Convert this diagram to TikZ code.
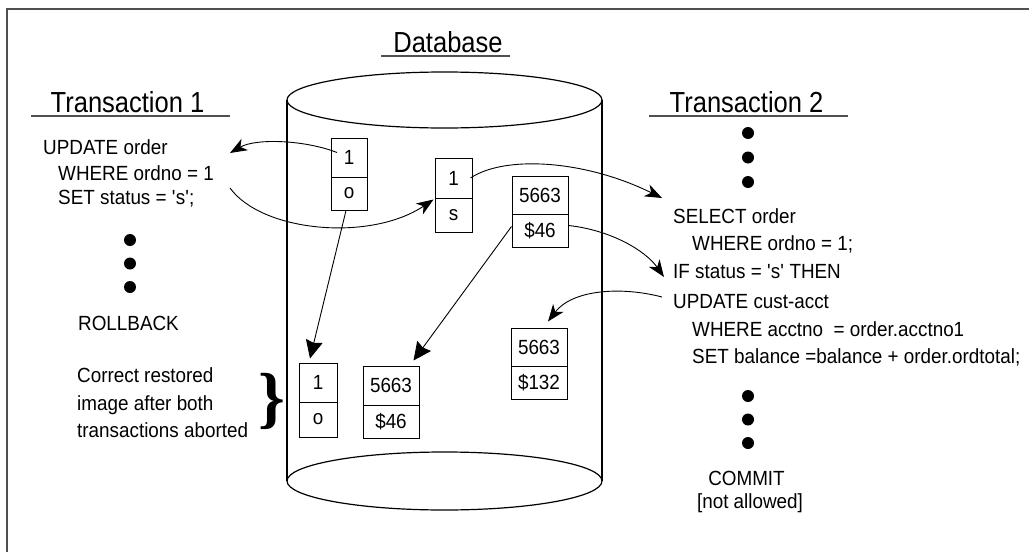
\documentclass[tikz,border=0pt]{standalone}
\usepackage{fontspec}
\setmainfont[FakeStretch=0.88]{Liberation Sans}
\newfontfamily\bodyfont[FakeStretch=0.92]{Liberation Sans}
\newfontfamily\braceserif{Liberation Serif}
\usetikzlibrary{arrows.meta,calc}
\definecolor{framegray}{RGB}{80,80,80}
\begin{document}
\begin{tikzpicture}[x=1pt,y=-1pt,
  body/.style={inner sep=0pt, font=\bodyfont\fontsize{20.5}{24}\selectfont, anchor=base west},
  ttl/.style={inner sep=0pt, font=\fontsize{29}{34}\selectfont, anchor=base},
  ctr/.style={inner sep=0pt, font=\bodyfont\fontsize{20.5}{24}\selectfont, anchor=base},
  cellbox/.style={draw, line width=1pt, inner sep=0pt, font=\bodyfont\fontsize{20.5}{24}\selectfont},
  dotm/.style={circle, fill, inner sep=0pt, minimum size=12pt},
  uline/.style={draw=framegray, line width=2pt},
  cyl/.style={draw, line width=1.2pt},
  carrow/.style={-{Stealth[length=17pt,width=13pt,inset=5pt]}, line width=0.9pt},
  sarrow/.style={-{Stealth[length=18pt,width=17pt,inset=2pt]}, line width=0.9pt}]
\useasboundingbox (0,0) rectangle (1029,552);
% frame (only top and left visible)
\draw[framegray, line width=2.3pt] (7,560) -- (7,9) -- (1040,9);

% titles
\node[ttl] (t1title) at (127.5,112) {Transaction 1};
\draw[uline] (31,116) -- (230,116);
\node[ttl] (dbtitle) at (448,52) {Database};
\draw[uline] (381,56) -- (510,56);
\node[ttl] (t2title) at (746.5,112) {Transaction 2};
\draw[uline] (649,116) -- (848,116);

% database cylinder
\draw[cyl] (444.5,100) ellipse [x radius=157.5, y radius=28];
\draw[cyl] (287,100) -- (287,481);
\draw[cyl] (602,100) -- (602,481);
\draw[cyl] (444.5,481) ellipse [x radius=157.5, y radius=29];

% records
\node[cellbox, minimum width=36pt, minimum height=39pt] (A1) at (349,157.5) {1};
\node[cellbox, minimum width=36pt, minimum height=33pt] (A2) at (349,193.5) {o};
\node[cellbox, minimum width=37pt, minimum height=40pt] (B1) at (453.5,178) {1};
\node[cellbox, minimum width=37pt, minimum height=34pt] (B2) at (453.5,215) {s};
\node[cellbox, minimum width=56pt, minimum height=38pt] (C1) at (540,195) {5663};
\node[cellbox, minimum width=56pt, minimum height=33pt] (C2) at (540,230.5) {\$46};
\node[cellbox, minimum width=38pt, minimum height=39pt] (D1) at (318,382.5) {1};
\node[cellbox, minimum width=38pt, minimum height=35pt] (D2) at (318,419.5) {o};
\node[cellbox, minimum width=56pt, minimum height=39pt] (E1) at (391,385.5) {5663};
\node[cellbox, minimum width=56pt, minimum height=33pt] (E2) at (391,421.5) {\$46};
\node[cellbox, minimum width=56pt, minimum height=38pt] (F1) at (539,347) {5663};
\node[cellbox, minimum width=56pt, minimum height=33pt] (F2) at (539,382.5) {\$132};

% Transaction 1 text
\node[body] (t1a) at (43,154) {UPDATE order};
\node[body] (t1b) at (58,180) {WHERE ordno = 1};
\node[body] (t1c) at (58,204) {SET status = \textquotesingle s\textquotesingle;};
\node[dotm] (t1d1) at (130,240) {};
\node[dotm] (t1d2) at (130,263.5) {};
\node[dotm] (t1d3) at (130,287) {};
\node[body] (t1rb) at (78,330) {ROLLBACK};
\node[body] (cr1) at (77,382) {Correct restored};
\node[body] (cr2) at (77,410) {image after both};
\node[body] (cr3) at (77,437) {transactions aborted};
\node[inner sep=0pt, anchor=base, font=\braceserif\bfseries\fontsize{68}{68}\selectfont] (brace) at (272,420) {\}};

% Transaction 2 text
\node[dotm] (t2d1) at (748,133) {};
\node[dotm] (t2d2) at (748,157.5) {};
\node[dotm] (t2d3) at (748,182) {};
\node[body] (t2a) at (673,223) {SELECT order};
\node[body] (t2b) at (692,250) {WHERE ordno = 1;};
\node[body] (t2c) at (673,278) {IF status = \textquotesingle s\textquotesingle{} THEN};
\node[body] (t2d) at (673,308) {UPDATE cust-acct};
\node[body] (t2e) at (692,336) {WHERE acctno\ \ = order.acctno1};
\node[body] (t2f) at (692,363) {SET balance =balance + order.ordtotal;};
\node[dotm] (t2d4) at (748,396) {};
\node[dotm] (t2d5) at (748,419.5) {};
\node[dotm] (t2d6) at (748,443) {};
\node[ctr] (commit) at (746.5,485) {COMMIT};
\node[ctr] (notal) at (750,508) {[not allowed]};

% free ends of connectors
\coordinate (p1) at (230,153);
\coordinate (p2) at (230,188);
\coordinate (p3) at (662,198);
\coordinate (p4) at (664,277);
\coordinate (p5) at (662,297);

% connectors
\draw[carrow] ($(A1.center)+(-12,-5)$) .. controls (305,140) and (256,138) .. (p1);
\draw[carrow] (p2) .. controls (262,232) and (370,242) .. ($(B1.south west)+(-1,1)$);
\draw[carrow] ($(B1.east)+(-2,0)$) .. controls (505,155) and (585,160) .. (p3);
\draw[carrow] ($(C2.east)+(0,-5)$) .. controls (610,230) and (645,250) .. (p4);
\draw[carrow] (p5) .. controls (620,286) and (572,290) .. ($(F1.north)+(9,-6)$);
\draw[sarrow] ($(A2.south)+(-3,0)$) -- ($(D1.north)+(-8,-4)$);
\draw[sarrow] ($(C2.west)+(0,-4)$) -- ($(E1.north east)+(-6,-5)$);
\end{tikzpicture}
\end{document}
